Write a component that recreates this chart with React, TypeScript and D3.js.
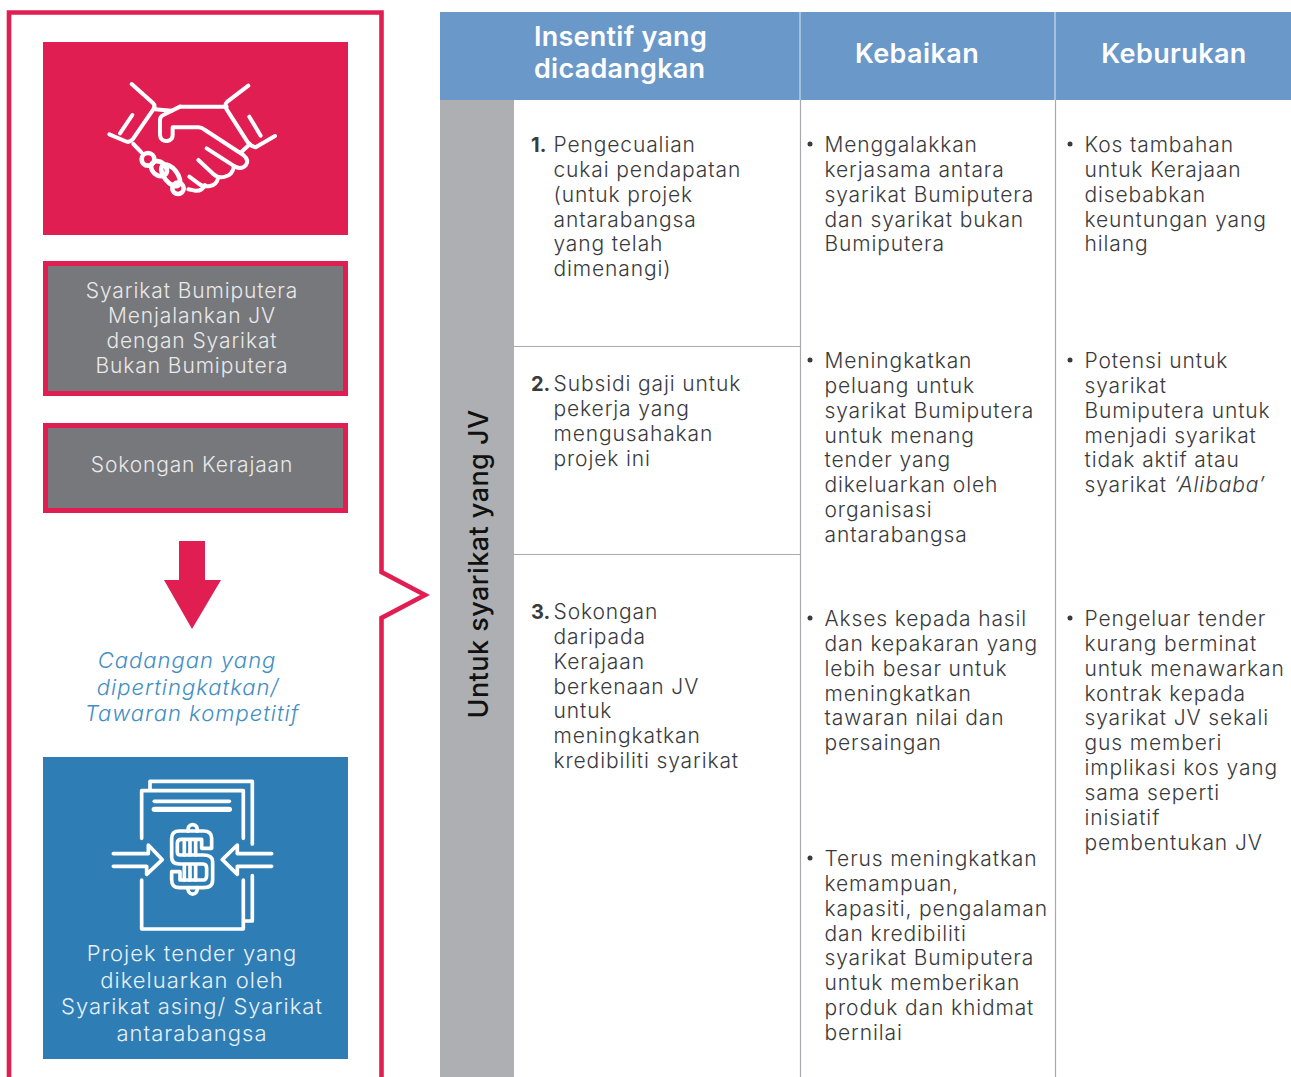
import React from 'react';
import * as d3 from 'd3';

const headerIncentive = ['Insentif yang', 'dicadangkan'];
const headerColumns = ['Kebaikan', 'Keburukan'];
const sideLabel = 'Untuk syarikat yang JV';
const incentives = [
  ['Pengecualian', 'cukai pendapatan', '(untuk projek', 'antarabangsa', 'yang telah', 'dimenangi)'],
  ['Subsidi gaji untuk', 'pekerja yang', 'mengusahakan', 'projek ini'],
  ['Sokongan', 'daripada', 'Kerajaan', 'berkenaan JV', 'untuk', 'meningkatkan', 'kredibiliti syarikat'],
];
const advantages = [
  ['Menggalakkan', 'kerjasama antara', 'syarikat Bumiputera', 'dan syarikat bukan', 'Bumiputera'],
  ['Meningkatkan', 'peluang untuk', 'syarikat Bumiputera', 'untuk menang', 'tender yang', 'dikeluarkan oleh', 'organisasi', 'antarabangsa'],
  ['Akses kepada hasil', 'dan kepakaran yang', 'lebih besar untuk', 'meningkatkan', 'tawaran nilai dan', 'persaingan'],
  ['Terus meningkatkan', 'kemampuan,', 'kapasiti, pengalaman', 'dan kredibiliti', 'syarikat Bumiputera', 'untuk memberikan', 'produk dan khidmat', 'bernilai'],
];
const disadvantages = [
  ['Kos tambahan', 'untuk Kerajaan', 'disebabkan', 'keuntungan yang', 'hilang'],
  ['Potensi untuk', 'syarikat', 'Bumiputera untuk', 'menjadi syarikat', 'tidak aktif atau', "syarikat ‘Alibaba’"],
  ['Pengeluar tender', 'kurang berminat', 'untuk menawarkan', 'kontrak kepada', 'syarikat JV sekali', 'gus memberi', 'implikasi kos yang', 'sama seperti', 'inisiatif', 'pembentukan JV'],
];
const greyBoxA = ['Syarikat Bumiputera', 'Menjalankan JV', 'dengan Syarikat', 'Bukan Bumiputera'];
const greyBoxB = ['Sokongan Kerajaan'];
const proposal = ['Cadangan yang', 'dipertingkatkan/', 'Tawaran kompetitif'];
const tender = ['Projek tender yang', 'dikeluarkan oleh', 'Syarikat asing/ Syarikat', 'antarabangsa'];

const FONT = 'Inter, "Open Sans", sans-serif';
const RED = '#E01E52';
const TEXT = '#3a3a3c';

const incentiveTops = [152, 391, 619];
const advantageTops = [152, 368, 626, 866];
const disadvantageTops = [152, 368, 626];
const proposalOffsets = [-5, -4, 0];
const LINE_H = 24.85;

const Lines = ({ lines, x, top, lh = LINE_H, size = 21, fill = TEXT, anchor = 'start', ls = 0.88, italic = false, offsets = [] }: any) => {
  const y = d3.scaleLinear().domain([0, 1]).range([top, top + lh]);
  return (
    <text fontFamily={FONT} fontSize={size} fontWeight={300} fill={fill} textAnchor={anchor} letterSpacing={ls} fontStyle={italic ? 'italic' : 'normal'}>
      {lines.map((l: string, i: number) => {
        const m = l.match(/^(.*)(‘Alibaba’)$/);
        return (
          <tspan key={i} x={x + (offsets[i] || 0)} y={y(i)}>
            {m ? <>{m[1]}<tspan fontStyle="italic">{m[2]}</tspan></> : l}
          </tspan>
        );
      })}
    </text>
  );
};

const Handshake = () => (
  <g transform="translate(90,70) scale(0.3333)" fill="none" stroke="#fff" strokeWidth={12} strokeLinecap="round" strokeLinejoin="round">
    <path d="M125 42 L188 98 Q198 108 190 118 L128 208 Q118 220 105 213 L58 193" />
    <path d="M127 135 L90 190" />
    <path d="M475 47 L412 95 Q402 105 410 118 L472 215 Q480 228 497 232 L555 198" />
    <path d="M478 140 L512 197" />
    <path d="M195 118 L245 122 M270 110 L410 110" />
    <path d="M270 110 L220 135 Q210 140 210 150 L210 195 Q212 215 232 213 Q248 210 248 195 L248 172 L325 172 Q335 172 345 180 L460 255 Q478 270 468 285 Q455 300 435 290 L350 235" />
    <path d="M432 288 Q428 315 405 320 Q385 326 370 312 L325 270" />
    <path d="M385 322 Q380 345 360 348 Q340 352 325 340 L298 320" />
    <path d="M345 345 Q335 365 315 362 L295 358" />
    <path d="M130 222 L155 248 M455 245 L480 222" />
    <g strokeWidth={14}>
      <circle cx={174} cy={268} r={19} />
      <ellipse cx={207} cy={296} rx={26} ry={20} transform="rotate(40 207 296)" />
      <ellipse cx={242} cy={316} rx={38} ry={20} transform="rotate(52 242 316)" />
      <circle cx={264} cy={355} r={17} />
    </g>
  </g>
);

const DollarDoc = () => (
  <g transform="translate(90,760) scale(0.3333)" fill="none" stroke="#fff" strokeWidth={11} strokeLinecap="round" strokeLinejoin="round">
    <path d="M180 88 L180 64 L487 64 L487 252 M487 347 L487 483 L462 483" />
    <path d="M155 235 L155 92 L460 92 L460 235 M155 360 L155 507 L460 507 L460 360" />
    <path d="M193 124 L418 124" />
    <path d="M193 148 L418 148" strokeWidth={16} />
    <path d="M70 281 L175 281 L175 255 L217 299 L170 343 L170 319 L70 319" />
    <path d="M545 281 L442 281 L442 255 L397 299 L442 343 L442 319 L545 319" />
    <path d="M365 265 V235 Q365 213 340 213 H268 Q245 213 245 235 V292 Q245 312 268 312 H340 Q350 312 350 325 V345 Q350 360 340 360 H270 V335 H245 V360 Q245 383 268 383 H340 Q368 383 368 360 V305 Q368 285 340 285 H270 Q262 285 262 275 V250 Q262 238 275 238 H335 V265 Z" />
    <path d="M283 240 V285 M300 240 V285 M317 240 V285 M283 315 V360 M300 315 V360 M317 315 V360" />
    <path d="M295 213 A14 14 0 1 1 321 213 M295 383 A14 14 0 1 0 321 383" />
  </g>
);

export default function App() {
  return (
    <svg width={1291} height={1077} viewBox="0 0 1291 1077" style={{ position: 'absolute', left: 0, top: 0, display: 'block', background: '#fff' }}>
      <path d="M9 1080 V12.5 H381.5 V572 L425 595 L381.5 618 V1080" fill="none" stroke={RED} strokeWidth={4.6} strokeMiterlimit={10} />
      <rect x={43} y={42} width={305} height={193} fill={RED} />
      <Handshake />
      <rect x={45.5} y={263.5} width={300} height={130} fill="#77787B" stroke={RED} strokeWidth={5} />
      <Lines lines={greyBoxA} x={192} top={298} size={21} fill="#e9e9ea" anchor="middle" ls={0.9} />
      <rect x={45.5} y={425.5} width={300} height={85} fill="#77787B" stroke={RED} strokeWidth={5} />
      <Lines lines={greyBoxB} x={192} top={472} size={21} fill="#e9e9ea" anchor="middle" ls={0.85} />
      <path d="M179 541 H205 V580 H221 L192 629 L164 580 H179 Z" fill={RED} />
      <Lines lines={proposal} x={192} top={668} lh={26.5} size={22} fill="#3F8EC4" anchor="middle" italic ls={1.0} offsets={proposalOffsets} />
      <rect x={43} y={757} width={305} height={302} fill="#2E7DB5" />
      <DollarDoc />
      <Lines lines={tender} x={192} top={961} lh={26.5} size={22} fill="#e6f0f7" anchor="middle" ls={1.0} />

      <rect x={440} y={12} width={851} height={88} fill="#6A98C9" />
      <rect x={440} y={100} width={74} height={977} fill="#AEAFB2" />
      <path d="M800 12 V100 M1055 12 V100" stroke="#dfe8f2" strokeWidth={1} />
      <path d="M800.5 100 V1077 M1055.5 100 V1077 M514 346.5 H800 M514 554.5 H800" stroke="#a9aaad" strokeWidth={1.2} fill="none" />
      <text fontFamily={FONT} fontSize={27} fontWeight={600} fill="#fff" letterSpacing={0.25}>
        {headerIncentive.map((l, i) => <tspan key={l} x={534} y={46 + i * 32}>{l}</tspan>)}
      </text>
      <text x={917} y={63} textAnchor="middle" fontFamily={FONT} fontSize={27} fontWeight={600} fill="#fff" letterSpacing={0.4}>{headerColumns[0]}</text>
      <text x={1174} y={63} textAnchor="middle" fontFamily={FONT} fontSize={27} fontWeight={600} fill="#fff" letterSpacing={0.4}>{headerColumns[1]}</text>
      <text transform="translate(488,564) rotate(-90)" textAnchor="middle" fontFamily={FONT} fontSize={27} fontWeight={500} fill="#111" letterSpacing={0.45}>{sideLabel}</text>

      {incentives.map((b, i) => (
        <g key={i}>
          <text x={531} y={incentiveTops[i]} fontFamily={FONT} fontSize={20} fontWeight={700} fill={TEXT}>{i + 1}.</text>
          <Lines lines={b} x={553.5} top={incentiveTops[i]} />
        </g>
      ))}
      {advantages.map((b, i) => (
        <g key={i}>
          <circle cx={810} cy={advantageTops[i] - 8} r={2.5} fill={TEXT} />
          <Lines lines={b} x={824.5} top={advantageTops[i]} />
        </g>
      ))}
      {disadvantages.map((b, i) => (
        <g key={i}>
          <circle cx={1070} cy={disadvantageTops[i] - 8} r={2.5} fill={TEXT} />
          <Lines lines={b} x={1084.5} top={disadvantageTops[i]} />
        </g>
      ))}
    </svg>
  );
}
